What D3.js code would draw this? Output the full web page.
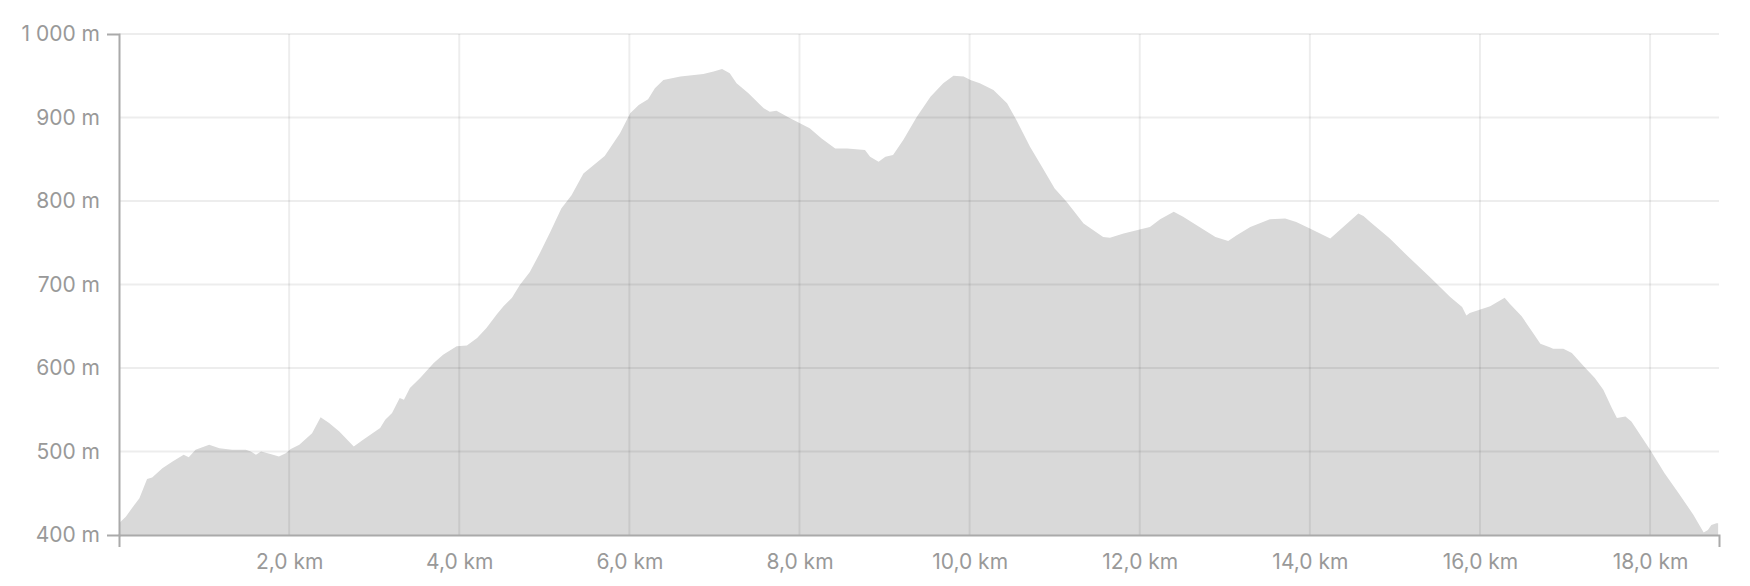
<!DOCTYPE html>
<html>
<head>
<meta charset="utf-8">
<title>Elevation profile</title>
<script src="https://cdn.jsdelivr.net/npm/d3@7"></script>
<style>
    body { margin: 0; background: #fff; }
    #chart-area { width: 1750px; height: 586px; }
    .axis text { font-family: Inter, "Noto Sans", sans-serif; font-size: 21px; fill: #999; }
    .axis path, .axis line { stroke: #aaa; stroke-width: 2; }
</style>
</head>
<body>
<div id="chart-area"></div>
<script>

// distance along the route (km)
var distance = [
    0, 0.08, 0.18, 0.24, 0.33, 0.39, 0.51, 0.63, 0.76, 0.82, 0.90, 1.06, 1.18, 1.33, 1.49, 1.55,
    1.61, 1.67, 1.78, 1.88, 1.96, 2.02, 2.12, 2.27, 2.37, 2.47, 2.59, 2.76, 2.87, 3.07, 3.13, 3.21,
    3.30, 3.35, 3.42, 3.54, 3.70, 3.81, 3.97, 4.09, 4.21, 4.32, 4.44, 4.52, 4.62, 4.71, 4.83, 4.95,
    5.07, 5.20, 5.32, 5.46, 5.71, 5.89, 6.01, 6.11, 6.22, 6.30, 6.40, 6.60, 6.87, 6.99, 7.09, 7.18,
    7.26, 7.40, 7.54, 7.58, 7.65, 7.73, 7.89, 8.12, 8.26, 8.42, 8.56, 8.77, 8.83, 8.93, 9.01, 9.10,
    9.22, 9.38, 9.54, 9.69, 9.81, 9.93, 10.01, 10.12, 10.28, 10.44, 10.55, 10.71, 10.85, 11.00, 11.14, 11.34,
    11.57, 11.65, 11.81, 12.00, 12.12, 12.24, 12.40, 12.51, 12.73, 12.89, 13.04, 13.14, 13.30, 13.53, 13.71, 13.84,
    14.00, 14.24, 14.57, 14.63, 14.71, 14.94, 15.18, 15.41, 15.65, 15.79, 15.84, 15.88, 16.12, 16.24, 16.29, 16.35,
    16.49, 16.63, 16.71, 16.82, 16.86, 16.98, 17.08, 17.22, 17.35, 17.45, 17.55, 17.61, 17.71, 17.78, 18.00, 18.17,
    18.35, 18.51, 18.63, 18.68, 18.72, 18.78, 18.80
];

// elevation (m)
var elevation = [
    414, 422, 436, 444, 467, 469, 480, 488, 496, 493, 502, 508, 504, 502, 502, 500,
    496, 500, 497, 494, 498, 503, 508, 522, 541, 534, 524, 506, 514, 528, 538, 546,
    564, 562, 576, 588, 606, 616, 626, 627, 636, 648, 664, 674, 684, 699, 715, 738,
    763, 791, 807, 833, 854, 881, 905, 915, 922, 935, 945, 949, 952, 955, 958, 953,
    941, 929, 915, 911, 907, 908, 899, 887, 875, 863, 863, 861, 853, 847, 853, 855,
    873, 901, 925, 941, 950, 949, 945, 941, 933, 917, 897, 865, 841, 815, 799, 773,
    757, 756, 761, 766, 769, 778, 787, 781, 767, 757, 752, 759, 769, 778, 779, 775,
    767, 755, 785, 782, 775, 755, 731, 709, 685, 673, 663, 666, 674, 681, 684, 677,
    662, 641, 629, 625, 623, 623, 618, 602, 588, 574, 552, 540, 542, 536, 502, 474,
    448, 424, 403, 406, 412, 414, 414
];

var xTicks = [2, 4, 6, 8, 10, 12, 14, 16, 18];
var yTicks = [400, 500, 600, 700, 800, 900, 1000];
var xDomain = [0, 18.81];
var yDomain = [400, 1000];


ElevationChart = function(_parentElement, _data){
    this.parentElement = _parentElement;
    this.data = _data;

    this.initVis();
}

ElevationChart.prototype.initVis = function(){
    var vis = this;

    vis.margin = { top: 34, right: 31, bottom: 51, left: 119 };
    vis.width = 1750 - vis.margin.left - vis.margin.right;
    vis.height = 586 - vis.margin.top - vis.margin.bottom;

    vis.svg = d3.select("#" + vis.parentElement).append("svg")
        .attr("width", vis.width + vis.margin.left + vis.margin.right)
        .attr("height", vis.height + vis.margin.top + vis.margin.bottom)
        .append("g")
        .attr("transform", "translate(" + vis.margin.left + "," + vis.margin.top + ")");

    vis.x = d3.scaleLinear().domain(xDomain).range([0, vis.width]);
    vis.y = d3.scaleLinear().domain(yDomain).range([vis.height, 0]);

    // comma decimals, space as thousands separator
    vis.locale = d3.formatLocale({ decimal: ",", thousands: "\u00a0", grouping: [3], currency: ["", ""] });

    vis.updateVis();
}

ElevationChart.prototype.updateVis = function(){
    var vis = this;

    var area = d3.area()
        .x(function(d) { return vis.x(d.km); })
        .y0(vis.height)
        .y1(function(d) { return vis.y(d.m); });

    vis.svg.append("path")
        .datum(vis.data)
        .attr("d", area)
        .style("fill", "#d9d9d9");

    // grid on top of the area, slightly transparent so it shows through
    vis.svg.append("g")
        .selectAll("line.h-grid")
        .data(yTicks.filter(function(d) { return d > yDomain[0]; }))
        .enter().append("line")
        .attr("class", "h-grid")
        .attr("x1", 0)
        .attr("x2", vis.width)
        .attr("y1", function(d) { return vis.y(d); })
        .attr("y2", function(d) { return vis.y(d); })
        .style("stroke", "rgba(0,0,0,0.07)")
        .style("stroke-width", 2);

    vis.svg.append("g")
        .selectAll("line.v-grid")
        .data(xTicks)
        .enter().append("line")
        .attr("class", "v-grid")
        .attr("x1", function(d) { return vis.x(d); })
        .attr("x2", function(d) { return vis.x(d); })
        .attr("y1", 0)
        .attr("y2", vis.height)
        .style("stroke", "rgba(0,0,0,0.07)")
        .style("stroke-width", 2);

    var fmtKm = vis.locale.format(",.1f");
    var fmtM = vis.locale.format(",.0f");

    var xAxis = d3.axisBottom(vis.x)
        .tickValues(xTicks)
        .tickSizeInner(0)
        .tickSizeOuter(12)
        .tickPadding(19)
        .tickFormat(function(d) { return fmtKm(d) + " km"; });

    var yAxis = d3.axisLeft(vis.y)
        .tickValues(yTicks)
        .tickSizeInner(0)
        .tickSizeOuter(12)
        .tickPadding(19)
        .tickFormat(function(d) { return fmtM(d) + " m"; });

    vis.svg.append("g")
        .attr("class", "axis x-axis")
        .attr("transform", "translate(0," + vis.height + ")")
        .call(xAxis);

    vis.svg.append("g")
        .attr("class", "axis y-axis")
        .call(yAxis);

    vis.svg.selectAll(".axis .domain").attr("fill", "none");
}

var profile = distance.map(function(d, i) {
    return { km: d, m: elevation[i] };
});

var chart = new ElevationChart("chart-area", profile);

</script>
</body>
</html>
